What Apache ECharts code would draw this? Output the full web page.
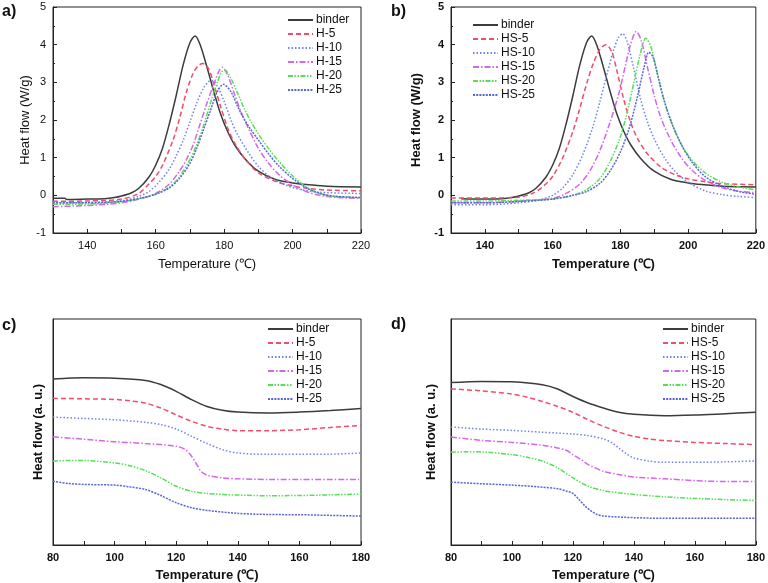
<!DOCTYPE html>
<html><head><meta charset="utf-8">
<script src="https://cdn.jsdelivr.net/npm/echarts@6/dist/echarts.min.js"></script>
<style>html,body{margin:0;padding:0;background:#fff}#c{width:768px;height:583px}</style>
</head><body><div id="c"></div>
<script>
// ---------- Panel a: Heat flow (W/g) vs Temperature, H series ----------
const aBinder = [[130,-0.08],[133.5,-0.08],[134,-0.11],[140,-0.1],[145,-0.09],[148,-0.06],[150,-0.02],[153,0.07],[155,0.18],[158,0.48],[160,0.8],[162,1.25],[164,1.9],[166,2.65],[168,3.45],[170,4.05],[171.5,4.23],[173,4.0],[175,3.4],[177,2.75],[179,2.15],[181,1.7],[183,1.35],[186,0.98],[190,0.64],[195,0.42],[200,0.33],[205,0.28],[210,0.24],[220,0.22]];
const aH5 = [[130,-0.16],[140,-0.15],[150,-0.1],[155,0.05],[158,0.3],[160,0.5],[162,0.8],[165,1.45],[167,2.05],[169,2.75],[171,3.25],[172.5,3.45],[173.8,3.5],[175.5,3.35],[177,2.95],[179,2.35],[181,1.8],[183,1.4],[186,0.98],[190,0.6],[195,0.37],[200,0.25],[205,0.18],[210,0.14],[220,0.12]];
const aH10 = [[130,-0.2],[140,-0.19],[150,-0.14],[155,-0.03],[158,0.1],[161,0.35],[164,0.7],[166,1.05],[168,1.45],[170,1.95],[172,2.45],[174,2.85],[175.5,3.02],[176.5,3.05],[178,2.9],[180,2.5],[182,2.0],[184,1.6],[187,1.15],[190,0.77],[194,0.45],[198,0.27],[202,0.16],[208,0.08],[220,0.05]];
const aH15 = [[130,-0.3],[140,-0.27],[150,-0.2],[156,-0.08],[160,0.05],[164,0.3],[167,0.65],[169,0.95],[171,1.35],[173,1.9],[175,2.45],[177,2.95],[178.5,3.3],[179.4,3.4],[181,3.2],[183,2.7],[185,2.2],[187,1.8],[190,1.25],[193,0.85],[196,0.55],[200,0.28],[204,0.1],[208,0.0],[212,-0.05],[220,-0.08]];
const aH20 = [[130,-0.24],[140,-0.23],[150,-0.17],[156,-0.07],[160,0.03],[164,0.22],[167,0.5],[170,0.95],[172,1.35],[174,1.85],[176,2.45],[178,3.0],[179.3,3.28],[180.2,3.33],[182,3.1],[184,2.7],[186,2.28],[188,1.93],[190,1.63],[193,1.24],[196,0.9],[200,0.52],[204,0.22],[208,0.05],[212,-0.03],[220,-0.06]];
const aH25 = [[130,-0.2],[140,-0.2],[150,-0.16],[156,-0.07],[160,0.03],[164,0.2],[167,0.45],[170,0.85],[172,1.25],[174,1.75],[176,2.25],[178,2.75],[179.8,2.95],[182,2.75],[184,2.35],[186,2.0],[188,1.72],[190,1.47],[193,1.1],[196,0.78],[200,0.45],[204,0.2],[208,0.05],[212,-0.02],[220,-0.06]];
// ---------- Panel b: HS series ----------
const bBinder = [[133,-0.09],[140,-0.1],[145,-0.09],[148,-0.06],[150,-0.02],[153,0.07],[155,0.18],[158,0.48],[160,0.8],[162,1.25],[164,1.9],[166,2.65],[168,3.45],[170,4.05],[171.5,4.23],[173,4.0],[175,3.4],[177,2.75],[179,2.15],[181,1.7],[183,1.35],[186,0.98],[190,0.64],[195,0.42],[200,0.33],[205,0.28],[210,0.24],[220,0.22]];
const bHS5 = [[130,-0.07],[140,-0.07],[150,-0.05],[154,0.05],[157,0.22],[160,0.5],[163,1.0],[166,1.7],[168,2.3],[170,2.95],[172,3.5],[174,3.88],[175.8,4.0],[177.5,3.8],[179,3.3],[181,2.55],[183,1.95],[185,1.52],[188,1.1],[192,0.75],[196,0.55],[200,0.44],[205,0.36],[210,0.31],[220,0.28]];
const bHS10 = [[130,-0.25],[140,-0.25],[150,-0.2],[156,-0.12],[160,0.0],[163,0.2],[166,0.55],[169,1.1],[172,1.85],[174,2.5],[176,3.2],[178,3.85],[179.5,4.2],[180.7,4.29],[182,4.08],[184,3.35],[186,2.55],[188,1.95],[190,1.5],[193,1.0],[196,0.65],[200,0.35],[205,0.12],[210,0.02],[215,-0.03],[220,-0.06]];
const bHS15 = [[130,-0.2],[140,-0.2],[150,-0.16],[160,-0.08],[164,0.05],[168,0.3],[171,0.65],[174,1.2],[177,1.95],[179.7,2.75],[181.5,3.45],[183,4.0],[184.7,4.35],[186.2,4.1],[188,3.4],[190,2.65],[192,2.05],[195,1.45],[198,1.0],[201,0.68],[205,0.4],[210,0.2],[215,0.11],[220,0.07]];
const bHS20 = [[130,-0.15],[140,-0.15],[150,-0.13],[160,-0.1],[166,0.0],[170,0.15],[174,0.45],[177,0.9],[180,1.55],[182,2.2],[184,3.0],[186,3.8],[187.5,4.17],[189,3.95],[190.5,3.4],[192.5,2.65],[195,1.95],[198,1.35],[201,0.95],[205,0.6],[210,0.35],[215,0.22],[220,0.15]];
const bHS25 = [[130,-0.2],[140,-0.2],[150,-0.16],[160,-0.1],[166,0.0],[170,0.1],[174,0.32],[177,0.65],[180,1.15],[182.5,1.75],[185,2.6],[187,3.4],[188.4,3.8],[189.6,3.68],[191,3.2],[193,2.5],[195.5,1.85],[198,1.35],[201,0.9],[205,0.5],[210,0.25],[215,0.1],[220,0.03]];
// ---------- Panel c: Heat flow (a.u.) vs Temperature, H series ----------
const cBinder = [[80,7.34],[90,7.4],[100,7.38],[110,7.28],[115,7.1],[120,6.8],[125,6.43],[130,6.13],[135,5.96],[140,5.88],[150,5.84],[160,5.88],[170,5.95],[180,6.04]];
const cH5 = [[80,6.49],[90,6.47],[100,6.44],[105,6.38],[110,6.28],[115,6.06],[120,5.76],[125,5.47],[130,5.25],[135,5.13],[140,5.06],[150,5.06],[160,5.1],[170,5.2],[180,5.29]];
const cH10 = [[80,5.66],[90,5.6],[100,5.54],[110,5.43],[115,5.33],[120,5.13],[125,4.81],[130,4.49],[135,4.22],[140,4.07],[150,4.01],[160,4.01],[170,4.02],[180,4.07]];
const cH15 = [[80,4.79],[90,4.68],[100,4.57],[110,4.49],[120,4.37],[123,4.22],[125,3.93],[127,3.49],[128,3.26],[130,3.09],[135,2.97],[140,2.93],[150,2.9],[160,2.9],[180,2.9]];
const cH20 = [[80,3.71],[85,3.74],[90,3.74],[100,3.63],[105,3.51],[110,3.29],[115,2.97],[120,2.6],[125,2.38],[130,2.28],[140,2.21],[150,2.18],[160,2.19],[170,2.22],[180,2.25]];
const cH25 = [[80,2.82],[85,2.72],[90,2.68],[100,2.65],[105,2.57],[110,2.46],[115,2.19],[120,1.87],[125,1.65],[130,1.53],[140,1.4],[150,1.35],[160,1.34],[170,1.31],[180,1.28]];
// ---------- Panel d: HS series ----------
const dBinder = [[80,7.19],[90,7.24],[100,7.22],[110,7.09],[115,6.9],[120,6.57],[125,6.28],[130,6.06],[135,5.87],[140,5.78],[150,5.72],[160,5.75],[170,5.81],[180,5.87]];
const dHS5 = [[80,6.91],[90,6.82],[100,6.68],[105,6.54],[110,6.35],[115,6.13],[120,5.87],[125,5.54],[130,5.25],[135,5.0],[140,4.81],[145,4.69],[150,4.62],[160,4.54],[170,4.49],[180,4.44]];
const dHS10 = [[80,5.22],[90,5.13],[100,5.07],[110,4.99],[120,4.91],[125,4.84],[130,4.69],[133,4.51],[135,4.29],[138,4.0],[140,3.85],[145,3.71],[150,3.66],[160,3.66],[170,3.68],[180,3.72]];
const dHS15 = [[80,4.78],[90,4.63],[100,4.54],[110,4.41],[115,4.29],[118,4.18],[120,4.0],[123,3.75],[125,3.56],[130,3.26],[135,3.12],[140,3.01],[150,2.93],[160,2.85],[170,2.81],[180,2.81]];
const dHS20 = [[80,4.1],[85,4.13],[90,4.12],[100,4.0],[105,3.88],[110,3.71],[115,3.41],[120,2.97],[125,2.6],[130,2.41],[135,2.31],[140,2.24],[150,2.13],[160,2.06],[170,2.01],[180,1.97]];
const dHS25 = [[80,2.78],[90,2.71],[100,2.65],[110,2.56],[115,2.49],[118,2.38],[120,2.28],[122,2.01],[124,1.72],[126,1.5],[128,1.35],[130,1.28],[140,1.21],[150,1.18],[160,1.18],[170,1.18],[180,1.18]];

const namesH = ['binder','H-5','H-10','H-15','H-20','H-25'];
const namesHS = ['binder','HS-5','HS-10','HS-15','HS-20','HS-25'];

const styles = [
  {color:'#3c3c3c', type:'solid', width:1.5},
  {color:'#f04c6c', type:[5,3], width:1.5},
  {color:'#7080ee', type:[1.5,2], width:1.5},
  {color:'#d466ea', type:[6,2,1.5,2], width:1.5},
  {color:'#55e055', type:[5,1.5,1.5,1.5,1.5,1.5], width:1.5},
  {color:'#5866d4', type:[2,1.2], width:1.5}
];

const chart = echarts.init(document.getElementById('c'), null, {renderer:'canvas'});
const FONT = 'Liberation Sans, Arial, sans-serif';

const grids = [
  {left:53, right:407, top:7, bottom:350},
  {left:451, right:10, top:7, bottom:350},
  {left:53, right:407, top:319, bottom:37},
  {left:451, right:10, top:319, bottom:37}
].map(g => Object.assign({show:true, borderColor:'#222', borderWidth:1, backgroundColor:'transparent'}, g));

function xAxis(i, min, max, bold, gap){
  return {gridIndex:i, type:'value', min:min, max:max, interval:10,
    name:'Temperature (\u2103)', nameLocation:'middle', nameGap: gap,
    nameTextStyle:{fontFamily:FONT, fontSize:13, fontWeight: bold?'bold':'normal', color:'#111'},
    axisLine:{onZero:false, lineStyle:{color:'#222', width:1}},
    axisTick:{inside:true, length:4, lineStyle:{color:'#222'}},
    minorTick:{show:false},
    splitLine:{show:false},
    axisLabel:{fontFamily:FONT, fontSize:11, fontWeight: bold?'bold':'normal', color:'#111', margin:7,
      formatter: v => (v % 20 === 0 ? String(v) : '')}
  };
}
function yAxisHeat(i, bold, gap){
  return {gridIndex:i, type:'value', min:-1, max:5, interval:1,
    name:'Heat flow (W/g)', nameLocation:'middle', nameGap:gap,
    nameTextStyle:{fontFamily:FONT, fontSize:13, fontWeight: bold?'bold':'normal', color:'#111'},
    axisLine:{onZero:false, lineStyle:{color:'#222', width:1}},
    axisTick:{inside:true, length:4, lineStyle:{color:'#222'}},
    minorTick:{show:true, splitNumber:2, length:2, lineStyle:{color:'#222'}},
    splitLine:{show:false},
    axisLabel:{fontFamily:FONT, fontSize:11, fontWeight: bold?'bold':'normal', color:'#111', margin:7}
  };
}
function yAxisAU(i, gap){
  return {gridIndex:i, type:'value', min:0, max:10,
    name:'Heat flow (a. u.)', nameLocation:'middle', nameGap:gap,
    nameTextStyle:{fontFamily:FONT, fontSize:13, fontWeight:'bold', color:'#111'},
    axisLine:{onZero:false, lineStyle:{color:'#222', width:1}},
    axisTick:{show:false}, axisLabel:{show:false}, splitLine:{show:false}
  };
}

const panels = [
  {data:[aBinder,aH5,aH10,aH15,aH20,aH25], names:namesH},
  {data:[bBinder,bHS5,bHS10,bHS15,bHS20,bHS25], names:namesHS},
  {data:[cBinder,cH5,cH10,cH15,cH20,cH25], names:namesH},
  {data:[dBinder,dHS5,dHS10,dHS15,dHS20,dHS25], names:namesHS}
];

const series = [];
panels.forEach((p, pi) => {
  p.data.forEach((d, si) => {
    series.push({type:'line', name:p.names[si], xAxisIndex:pi, yAxisIndex:pi, data:d,
      smooth:0.3, showSymbol:false, symbol:'none', silent:true, animation:false, clip:true,
      lineStyle:Object.assign({}, styles[si]), itemStyle:{color:styles[si].color}});
  });
});

function legend(names, left, top){
  return {show:true, data:names, orient:'vertical', left:left, top:top, itemWidth:25, itemHeight:10, itemGap:0,
    selectedMode:false, padding:0,
    itemStyle:{opacity:0, borderWidth:0},
    textStyle:{fontFamily:FONT, fontSize:12, lineHeight:14, color:'#111', padding:[0,0,0,-2]}};
}

const option = {
  animation:false,
  backgroundColor:'#fff',
  grid:grids,
  xAxis:[xAxis(0,130,220,false,25), xAxis(1,130,220,true,25), xAxis(2,80,180,true,24), xAxis(3,80,180,true,24)],
  yAxis:[yAxisHeat(0,false,20), yAxisHeat(1,true,28), yAxisAU(2,8), yAxisAU(3,13)],
  legend:[legend(namesH,287,13), legend(namesHS,472,18), legend(namesH,267,322), legend(namesHS,662,322)],
  series:series,
  graphic:[
    {type:'text', left:2, top:4, style:{text:'a)', font:'bold 16px '+FONT, fill:'#111'}},
    {type:'text', left:391, top:4, style:{text:'b)', font:'bold 16px '+FONT, fill:'#111'}},
    {type:'text', left:2, top:318, style:{text:'c)', font:'bold 16px '+FONT, fill:'#111'}},
    {type:'text', left:391, top:317, style:{text:'d)', font:'bold 16px '+FONT, fill:'#111'}}
  ]
};
chart.setOption(option);
</script></body></html>
